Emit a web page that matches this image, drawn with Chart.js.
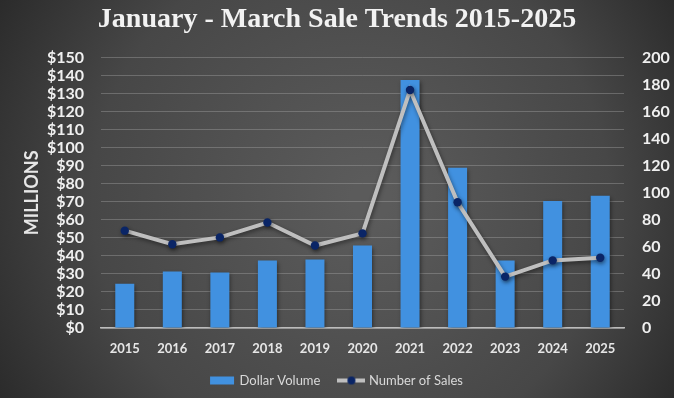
<!DOCTYPE html>
<html lang="en">
<head>
  <meta charset="UTF-8">
  <title>January - March Sale Trends 2015-2025</title>
  <script src="https://cdn.jsdelivr.net/npm/chart.js"></script>
  <style>
    html, body { margin: 0; padding: 0; background: #333; }
    #wrap { width: 674px; height: 398px; }
  </style>
</head>
<body>
  <div id="wrap"><canvas id="salesChart" width="674" height="398"></canvas></div>

  <script>
    // data
    const years = ['2015', '2016', '2017', '2018', '2019', '2020', '2021', '2022', '2023', '2024', '2025'];
    const dollarVolume = [24.5, 31.3, 30.8, 37.4, 38, 45.7, 137.6, 88.9, 37.4, 70.5, 73.4];
    const numberOfSales = [72, 62, 67, 78, 61, 70, 176, 93, 38, 50, 52];

    const barBlue = '#4191e0';
    const lineGray = '#bfbfbf';
    const dotNavy = '#0a2566';

    // little legend icons
    function legendIcon(kind) {
      const c = document.createElement('canvas');
      c.width = 28; c.height = 10;
      const g = c.getContext('2d');
      if (kind === 'bar') {
        g.fillStyle = barBlue;
        g.fillRect(2, 1, 24, 8);
      } else {
        g.strokeStyle = lineGray;
        g.lineWidth = 4;
        g.beginPath(); g.moveTo(0, 5); g.lineTo(28, 5); g.stroke();
        g.fillStyle = dotNavy;
        g.beginPath(); g.arc(14, 5, 4, 0, Math.PI * 2); g.fill();
      }
      return c;
    }
    const icons = [legendIcon('bar'), legendIcon('line')];

    const backdrop = {
      id: 'backdrop',
      beforeDraw(chart) {
        const { ctx, width, height } = chart;
        const grad = ctx.createRadialGradient(width * 0.55, height * 0.5, 20, width * 0.5, height * 0.5, width * 0.62);
        grad.addColorStop(0, '#5b5b5b');
        grad.addColorStop(0.6, '#474747');
        grad.addColorStop(1, '#262626');
        ctx.save();
        ctx.fillStyle = grad;
        ctx.fillRect(0, 0, width, height);
        ctx.restore();
      }
    };

    const shadows = {
      id: 'shadows',
      beforeDatasetDraw(chart) {
        const ctx = chart.ctx;
        ctx.save();
        ctx.shadowColor = 'rgba(0,0,0,0.45)';
        ctx.shadowBlur = 4;
        ctx.shadowOffsetX = 1;
        ctx.shadowOffsetY = 2;
      },
      afterDatasetDraw(chart) {
        chart.ctx.restore();
      }
    };

    new Chart(document.getElementById('salesChart').getContext('2d'), {
      data: {
        labels: years,
        datasets: [
          {
            type: 'bar',
            label: 'Dollar Volume',
            data: dollarVolume,
            yAxisID: 'y',
            backgroundColor: barBlue,
            barPercentage: 0.4,
            categoryPercentage: 1,
            order: 2
          },
          {
            type: 'line',
            label: 'Number of Sales',
            data: numberOfSales,
            yAxisID: 'y1',
            borderColor: lineGray,
            borderWidth: 4,
            pointRadius: 4.2,
            pointBackgroundColor: dotNavy,
            pointBorderColor: dotNavy,
            pointBorderWidth: 0,
            tension: 0,
            order: 1
          }
        ]
      },
      options: {
        responsive: false,
        animation: false,
        layout: { padding: { top: 0, bottom: 1, left: 0, right: 0 } },
        plugins: {
          title: {
            display: true,
            text: 'January - March Sale Trends 2015-2025',
            color: '#f2f2f2',
            font: { family: 'Liberation Serif', size: 28, weight: 'bold' },
            padding: { top: 3, bottom: 21 }
          },
          legend: {
            position: 'bottom',
            labels: {
              color: '#d9d9d9',
              font: { family: 'Lato', size: 13 },
              usePointStyle: true,
              pointStyleWidth: 22,
              boxHeight: 10,
              padding: 10,
              sort: (a, b) => a.datasetIndex - b.datasetIndex,
              generateLabels(chart) {
                const items = Chart.defaults.plugins.legend.labels.generateLabels(chart);
                items.forEach(it => {
                  it.pointStyle = icons[it.datasetIndex];
                  if (it.datasetIndex === 0) it.text += '   ';
                });
                return items;
              }
            }
          },
          tooltip: { enabled: false }
        },
        scales: {
          x: {
            grid: { display: false, drawTicks: false },
            border: { display: true, color: '#bcbcbc', width: 1.5 },
            ticks: {
              color: '#e6e6e6',
              font: { family: 'Lato', size: 13, weight: 'bold' },
              padding: 13,
              maxRotation: 0
            },
            afterFit(scale) { scale.height = 36; }
          },
          y: {
            position: 'left',
            min: 0,
            max: 150,
            grid: { color: 'rgba(170,170,170,0.38)', lineWidth: 1, drawTicks: false },
            border: { display: false },
            ticks: {
              stepSize: 10,
              autoSkip: false,
              color: '#f0f0f0',
              font: { family: 'Lato', size: 16, weight: 'bold' },
              padding: 17,
              callback: v => '$' + v
            },
            title: {
              display: true,
              text: 'MILLIONS',
              color: '#e6e6e6',
              font: { family: 'Lato', size: 18, weight: 'bold' },
              padding: { top: 21, bottom: 0 }
            },
            afterFit(scale) { scale.width = 101; }
          },
          y1: {
            position: 'right',
            min: 0,
            max: 200,
            grid: { display: false, drawTicks: false },
            border: { display: false },
            ticks: {
              stepSize: 20,
              autoSkip: false,
              color: '#f0f0f0',
              font: { family: 'Lato', size: 16, weight: 'bold' },
              padding: 18
            },
            afterFit(scale) { scale.width = 50; }
          }
        }
      },
      plugins: [backdrop, shadows]
    });
  </script>
</body>
</html>
